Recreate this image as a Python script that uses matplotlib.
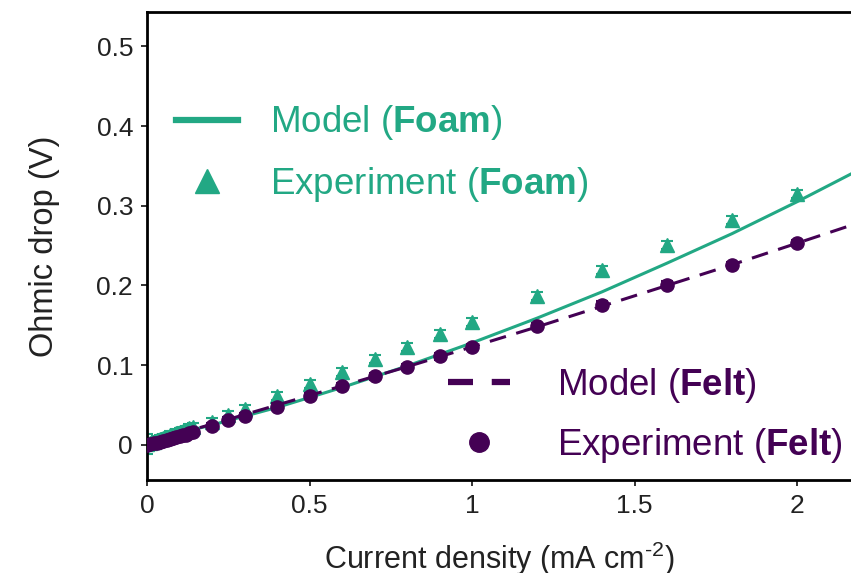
import matplotlib
matplotlib.use("Agg")
import matplotlib.pyplot as plt
from matplotlib.lines import Line2D

plt.rcParams["font.family"] = ["Liberation Sans", "DejaVu Sans"]
plt.rcParams["mathtext.fontset"] = "custom"
plt.rcParams["mathtext.rm"] = "Liberation Sans"
plt.rcParams["mathtext.bf"] = "Liberation Sans:bold"

FOAM = "#22a884"
FELT = "#440154"

# Measured ohmic drop (V) vs current density (mA cm^-2)
exp_x = [0.0, 0.01, 0.02, 0.03, 0.04, 0.05, 0.06, 0.07, 0.08, 0.09, 0.10, 0.11,
         0.12, 0.13, 0.14, 0.2, 0.25, 0.3, 0.4,
         0.5, 0.6, 0.7, 0.8, 0.9, 1.0, 1.2, 1.4, 1.6, 1.8, 2.0]
foam_exp = [0.001, 0.003, 0.004, 0.006, 0.007, 0.009, 0.010, 0.012, 0.013, 0.015,
            0.016, 0.018, 0.019, 0.021, 0.022, 0.029, 0.038,
            0.045, 0.061, 0.077, 0.092, 0.108, 0.123, 0.139, 0.154, 0.187, 0.220,
            0.251, 0.282, 0.315]
foam_err = [0.013] + [0.005] * 29
felt_exp = [0.0, 0.001, 0.002, 0.003, 0.004, 0.005, 0.006, 0.008, 0.009, 0.010,
            0.011, 0.012, 0.013, 0.015, 0.016, 0.024, 0.031,
            0.036, 0.048, 0.061, 0.074, 0.086, 0.098, 0.111, 0.123, 0.149, 0.176,
            0.201, 0.226, 0.253]
felt_err = [0.004] * 30

# Model curves
model_x = [0.0, 0.2, 0.4, 0.6, 0.8, 1.0, 1.2, 1.4, 1.6, 1.8, 2.0, 2.2]
foam_model = [0.005, 0.025, 0.047, 0.072, 0.099, 0.128, 0.159, 0.192, 0.228,
              0.265, 0.305, 0.347]
felt_model = [0.003, 0.026, 0.050, 0.074, 0.098, 0.123, 0.148, 0.174, 0.200,
              0.226, 0.253, 0.280]

xticks = [0, 0.5, 1, 1.5, 2]
xtick_labels = ["0", "0.5", "1", "1.5", "2"]
yticks = [0, 0.1, 0.2, 0.3, 0.4, 0.5]
ytick_labels = ["0", "0.1", "0.2", "0.3", "0.4", "0.5"]

W, H = 851, 573
fig = plt.figure(figsize=(W / 100, H / 100), dpi=100)
ax = fig.add_axes([147 / W, (H - 480) / H, (W - 147) / W, (480 - 12) / H])

ax.errorbar(exp_x, foam_exp, yerr=foam_err, fmt="^", color=FOAM, ms=9.5,
            capsize=4, elinewidth=1.5, capthick=1.5, zorder=2)
ax.plot(model_x, foam_model, "-", color=FOAM, lw=2.2, zorder=3)
ax.plot(model_x, felt_model, color=FELT, lw=2.2, dashes=(5.5, 3.5), zorder=4)
ax.errorbar(exp_x, felt_exp, yerr=felt_err, fmt="o", color=FELT, ms=9.5,
            capsize=4, elinewidth=1.5, capthick=1.5, zorder=5)

ax.set_xlim(0, 2.166)
ax.set_ylim(-0.044, 0.543)
ax.set_xticks(xticks, xtick_labels)
ax.set_yticks(yticks, ytick_labels)
ax.tick_params(labelsize=19, length=4, width=1.3, pad=6, colors="#222222")
for s in ["left", "bottom", "top"]:
    ax.spines[s].set_linewidth(2)
ax.spines["right"].set_visible(False)

ax.set_xlabel(r"Current density (mA cm$^{\text{-2}}$)", fontsize=22, labelpad=16,
              color="#222222")
ax.set_ylabel("Ohmic drop (V)", fontsize=23.5, labelpad=26, color="#222222")

h_foam = [Line2D([], [], color=FOAM, lw=4.5),
          Line2D([], [], color=FOAM, marker="^", ls="none", ms=17)]
leg1 = ax.legend(h_foam, [r"Model ($\mathbf{Foam}$)", r"Experiment ($\mathbf{Foam}$)"],
                 loc="center left", bbox_to_anchor=(176 / W, 1 - 153.5 / H),
                 bbox_transform=fig.transFigure, frameon=False, fontsize=26.5,
                 handlelength=1.68, handletextpad=0.87, labelspacing=0.6,
                 borderpad=0, borderaxespad=0, labelcolor=FOAM)
ax.add_artist(leg1)

h_felt = [Line2D([], [], color=FELT, lw=4.5, dashes=(4.0, 3.0)),
          Line2D([], [], color=FELT, marker="o", ls="none", ms=14)]
ax.legend(h_felt, [r"Model ($\mathbf{Felt}$)", r"Experiment ($\mathbf{Felt}$)"],
          loc="center left", bbox_to_anchor=(448 / W, 1 - 415.5 / H),
          bbox_transform=fig.transFigure, frameon=False, fontsize=26.5,
          handlelength=1.68, handletextpad=1.28, labelspacing=0.55,
          borderpad=0, borderaxespad=0, labelcolor=FELT)

fig.savefig("out.png", dpi=100)
